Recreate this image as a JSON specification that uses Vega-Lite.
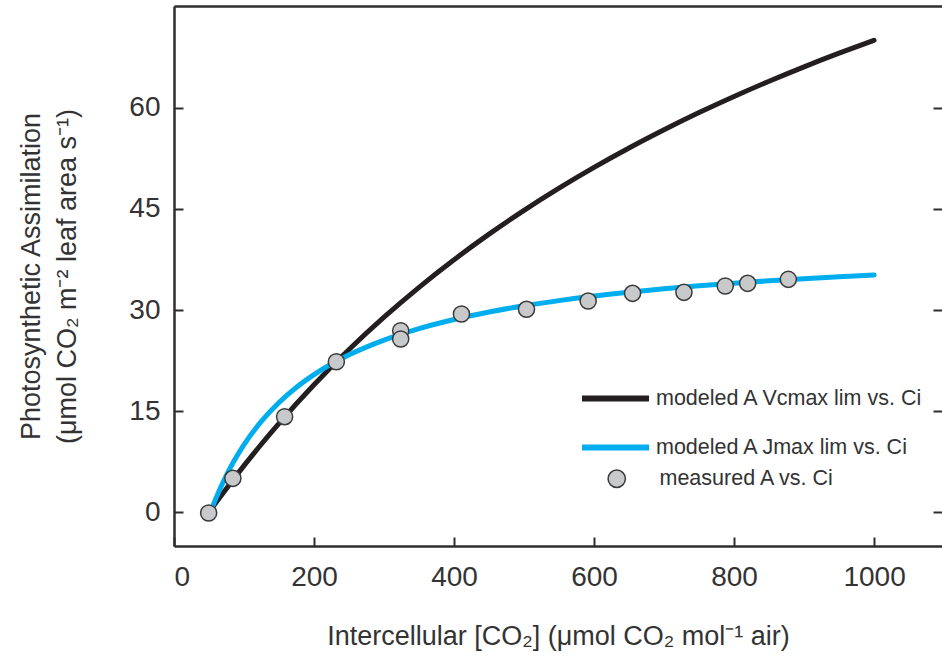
{
  "$schema": "https://vega.github.io/schema/vega-lite/v6.json",
  "width": 768,
  "height": 540,
  "autosize": {"type": "none"},
  "padding": {"left": 174, "top": 6, "right": 0, "bottom": 113},
  "background": "white",
  "config": {
    "view": {"stroke": null},
    "font": "Liberation Sans",
    "axis": {
      "grid": false,
      "domainColor": "#2e2e2e",
      "domainWidth": 2.5,
      "tickColor": "#2e2e2e",
      "tickWidth": 2,
      "labelFont": "Liberation Sans",
      "labelFontSize": 28,
      "labelColor": "#333333",
      "titleFont": "Liberation Sans",
      "titleFontSize": 27,
      "titleFontWeight": "normal",
      "titleColor": "#333333"
    },
    "legend": {
      "labelFont": "Liberation Sans",
      "labelFontSize": 21.5,
      "labelColor": "#333333",
      "labelLimit": 400,
      "padding": 0
    }
  },
  "datasets": {
    "curves": [
      {"C": 50, "A": 0, "curve": "modeled A Vcmax lim vs. Ci"},
      {"C": 60, "A": 1.44, "curve": "modeled A Vcmax lim vs. Ci"},
      {"C": 75, "A": 3.54, "curve": "modeled A Vcmax lim vs. Ci"},
      {"C": 100, "A": 6.92, "curve": "modeled A Vcmax lim vs. Ci"},
      {"C": 125, "A": 10.13, "curve": "modeled A Vcmax lim vs. Ci"},
      {"C": 150, "A": 13.19, "curve": "modeled A Vcmax lim vs. Ci"},
      {"C": 200, "A": 18.91, "curve": "modeled A Vcmax lim vs. Ci"},
      {"C": 250, "A": 24.14, "curve": "modeled A Vcmax lim vs. Ci"},
      {"C": 300, "A": 28.94, "curve": "modeled A Vcmax lim vs. Ci"},
      {"C": 350, "A": 33.37, "curve": "modeled A Vcmax lim vs. Ci"},
      {"C": 400, "A": 37.46, "curve": "modeled A Vcmax lim vs. Ci"},
      {"C": 450, "A": 41.26, "curve": "modeled A Vcmax lim vs. Ci"},
      {"C": 500, "A": 44.79, "curve": "modeled A Vcmax lim vs. Ci"},
      {"C": 550, "A": 48.08, "curve": "modeled A Vcmax lim vs. Ci"},
      {"C": 600, "A": 51.16, "curve": "modeled A Vcmax lim vs. Ci"},
      {"C": 650, "A": 54.04, "curve": "modeled A Vcmax lim vs. Ci"},
      {"C": 700, "A": 56.74, "curve": "modeled A Vcmax lim vs. Ci"},
      {"C": 750, "A": 59.29, "curve": "modeled A Vcmax lim vs. Ci"},
      {"C": 800, "A": 61.68, "curve": "modeled A Vcmax lim vs. Ci"},
      {"C": 850, "A": 63.94, "curve": "modeled A Vcmax lim vs. Ci"},
      {"C": 900, "A": 66.08, "curve": "modeled A Vcmax lim vs. Ci"},
      {"C": 950, "A": 68.1, "curve": "modeled A Vcmax lim vs. Ci"},
      {"C": 1000, "A": 70.02, "curve": "modeled A Vcmax lim vs. Ci"},
      {"C": 52, "A": 0, "curve": "modeled A Jmax lim vs. Ci"},
      {"C": 60, "A": 2.1, "curve": "modeled A Jmax lim vs. Ci"},
      {"C": 75, "A": 5.52, "curve": "modeled A Jmax lim vs. Ci"},
      {"C": 100, "A": 10.03, "curve": "modeled A Jmax lim vs. Ci"},
      {"C": 125, "A": 13.52, "curve": "modeled A Jmax lim vs. Ci"},
      {"C": 150, "A": 16.29, "curve": "modeled A Jmax lim vs. Ci"},
      {"C": 175, "A": 18.55, "curve": "modeled A Jmax lim vs. Ci"},
      {"C": 200, "A": 20.42, "curve": "modeled A Jmax lim vs. Ci"},
      {"C": 250, "A": 23.36, "curve": "modeled A Jmax lim vs. Ci"},
      {"C": 300, "A": 25.55, "curve": "modeled A Jmax lim vs. Ci"},
      {"C": 350, "A": 27.25, "curve": "modeled A Jmax lim vs. Ci"},
      {"C": 400, "A": 28.6, "curve": "modeled A Jmax lim vs. Ci"},
      {"C": 450, "A": 29.71, "curve": "modeled A Jmax lim vs. Ci"},
      {"C": 500, "A": 30.63, "curve": "modeled A Jmax lim vs. Ci"},
      {"C": 550, "A": 31.4, "curve": "modeled A Jmax lim vs. Ci"},
      {"C": 600, "A": 32.07, "curve": "modeled A Jmax lim vs. Ci"},
      {"C": 650, "A": 32.64, "curve": "modeled A Jmax lim vs. Ci"},
      {"C": 700, "A": 33.15, "curve": "modeled A Jmax lim vs. Ci"},
      {"C": 750, "A": 33.59, "curve": "modeled A Jmax lim vs. Ci"},
      {"C": 800, "A": 33.99, "curve": "modeled A Jmax lim vs. Ci"},
      {"C": 850, "A": 34.34, "curve": "modeled A Jmax lim vs. Ci"},
      {"C": 900, "A": 34.65, "curve": "modeled A Jmax lim vs. Ci"},
      {"C": 950, "A": 34.94, "curve": "modeled A Jmax lim vs. Ci"},
      {"C": 1000, "A": 35.2, "curve": "modeled A Jmax lim vs. Ci"}
    ],
    "measured": [
      {"C": 49.5, "A": -0.1, "kind": "measured A vs. Ci"},
      {"C": 84.1, "A": 5.04, "kind": "measured A vs. Ci"},
      {"C": 158, "A": 14.18, "kind": "measured A vs. Ci"},
      {"C": 231.9, "A": 22.33, "kind": "measured A vs. Ci"},
      {"C": 323.8, "A": 26.93, "kind": "measured A vs. Ci"},
      {"C": 323.8, "A": 25.7, "kind": "measured A vs. Ci"},
      {"C": 410.6, "A": 29.41, "kind": "measured A vs. Ci"},
      {"C": 503.5, "A": 30.11, "kind": "measured A vs. Ci"},
      {"C": 591.6, "A": 31.34, "kind": "measured A vs. Ci"},
      {"C": 655, "A": 32.48, "kind": "measured A vs. Ci"},
      {"C": 728.4, "A": 32.63, "kind": "measured A vs. Ci"},
      {"C": 787.4, "A": 33.56, "kind": "measured A vs. Ci"},
      {"C": 819.4, "A": 33.96, "kind": "measured A vs. Ci"},
      {"C": 877.5, "A": 34.55, "kind": "measured A vs. Ci"}
    ]
  },
  "layer": [
    {
      "mark": {"type": "rule", "color": "#2e2e2e", "strokeWidth": 2},
      "encoding": {
        "y": {"datum": 0, "type": "quantitative", "axis": null}
      }
    },
    {
      "data": {"name": "curves"},
      "mark": {"type": "line", "strokeWidth": 5, "strokeCap": "round", "interpolate": "monotone"},
      "encoding": {
        "x": {
          "field": "C", "type": "quantitative",
          "scale": {"domain": [0, 1097], "nice": false, "zero": false},
          "axis": {
            "orient": "bottom",
            "values": [0, 200, 400, 600, 800, 1000],
            "format": "d",
            "tickSize": -9,
            "labelPadding": 26,
            "title": "Intercellular [CO₂] (μmol CO₂ mol⁻¹ air)",
            "titlePadding": 32
          }
        },
        "y": {
          "field": "A", "type": "quantitative",
          "scale": {"domain": [-5, 75.1], "nice": false, "zero": false},
          "axis": {
            "orient": "left",
            "values": [0, 15, 30, 45, 60],
            "tickSize": -9,
            "labelPadding": 23,
            "title": ["Photosynthetic Assimilation", "(μmol CO₂ m⁻² leaf area s⁻¹)"],
            "titleLineHeight": 36,
            "titlePadding": 47
          }
        },
        "color": {
          "field": "curve", "type": "nominal",
          "scale": {
            "domain": ["modeled A Vcmax lim vs. Ci", "modeled A Jmax lim vs. Ci"],
            "range": ["#231f20", "#00aeef"]
          },
          "legend": {
            "orient": "none",
            "legendX": 405,
            "legendY": 356,
            "title": null,
            "symbolType": "stroke",
            "symbolSize": 4489,
            "symbolStrokeWidth": 6,
            "labelOffset": 4,
            "rowPadding": -42
          }
        }
      }
    },
    {
      "data": {"name": "measured"},
      "mark": {"type": "point", "filled": true, "size": 260, "stroke": "#3a3a3a", "strokeWidth": 1.5, "opacity": 1},
      "encoding": {
        "x": {
          "field": "C", "type": "quantitative",
          "axis": {"orient": "top", "ticks": false, "labels": false, "title": null, "domain": true}
        },
        "y": {
          "field": "A", "type": "quantitative",
          "axis": {"orient": "right", "values": [0, 15, 30, 45, 60], "tickSize": -9, "labels": false, "domain": false, "title": null}
        },
        "fill": {
          "field": "kind", "type": "nominal",
          "scale": {"range": ["#c8c9cb"]},
          "legend": {
            "orient": "none",
            "legendX": 432,
            "legendY": 462,
            "title": null,
            "symbolType": "circle",
            "symbolSize": 300,
            "symbolStrokeColor": "#3a3a3a",
            "symbolStrokeWidth": 1.5,
            "labelOffset": 32
          }
        }
      }
    }
  ],
  "resolve": {"axis": {"x": "independent", "y": "independent"}}
}
